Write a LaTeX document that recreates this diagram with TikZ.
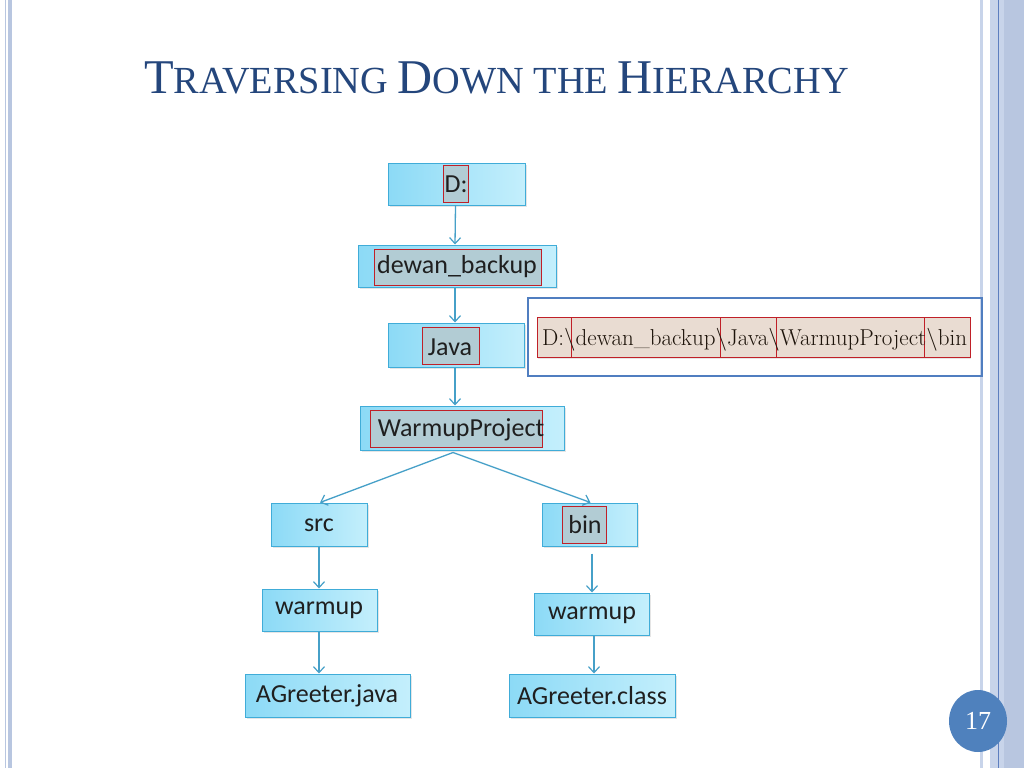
\documentclass[tikz,border=0pt]{standalone}
\usepackage{fontspec}
\newfontfamily\titlefont{Liberation Serif}
\newfontfamily\boxfont{Carlito}
\usetikzlibrary{arrows.meta,shadows,calc,shapes.geometric}
\definecolor{titleblue}{RGB}{36,70,124}
\definecolor{cyanL}{RGB}{140,218,246}
\definecolor{cyanR}{RGB}{196,239,252}
\definecolor{cyanB}{RGB}{64,172,216}
\definecolor{hlfill}{RGB}{178,204,212}
\definecolor{hlred}{RGB}{192,32,40}
\definecolor{arrowc}{RGB}{70,160,200}
\definecolor{pathfill}{RGB}{233,220,210}
\definecolor{pathblue}{RGB}{80,126,192}
\definecolor{numblue}{RGB}{79,129,189}
\definecolor{barlight}{RGB}{200,212,234}
\definecolor{barmid}{RGB}{184,198,224}
\definecolor{bardark}{RGB}{94,127,191}
\tikzset{
  cbox/.style={draw=cyanB, line width=1pt, left color=cyanL, right color=cyanR,
    inner sep=0pt, drop shadow={shadow xshift=1.5pt, shadow yshift=-2pt, opacity=0.2}},
  hl/.style={draw=hlred, line width=1pt, fill=hlfill, inner sep=0pt},
  lbl/.style={font=\boxfont\fontsize{26}{26}\selectfont, text=black!88, inner sep=0pt},
  conn/.style={draw=arrowc, line width=1.3pt, -{Straight Barb[length=6pt,width=11pt,line width=1.2pt]}},
  pseg/.style={draw=hlred, line width=1pt, fill=pathfill, inner sep=0pt,
    drop shadow={shadow xshift=1pt, shadow yshift=-1.5pt, opacity=0.2}},
}
\begin{document}
\begin{tikzpicture}[x=1pt,y=-1pt]
\useasboundingbox (0,0) rectangle (1024,768);
\fill[white] (0,0) rectangle (1024,768);
% borders
\fill[barmid] (4.5,0) rectangle (6,768);
\fill[barmid] (8,0) rectangle (12,768);
\fill[barlight] (980,0) rectangle (983,768);
\fill[barlight] (990,0) rectangle (1024,768);
\fill[barmid] (1004,0) rectangle (1024,768);
\draw[bardark, line width=1pt] (998,0) -- (998,768);
% title
\node[anchor=base, text=titleblue, inner sep=0pt] (title) at (496.5,93)
 {\titlefont\fontsize{48.5}{48.5}\selectfont T\fontsize{38.3}{38.3}\selectfont RAVERSING
  \fontsize{48.5}{48.5}\selectfont D\fontsize{38.3}{38.3}\selectfont OWN THE
  \fontsize{48.5}{48.5}\selectfont H\fontsize{38.3}{38.3}\selectfont IERARCHY};
% tree boxes
\node[cbox, minimum width=137pt, minimum height=42pt] (d) at (456.5,184) {};
\node[hl, minimum width=25pt, minimum height=37pt] (dh) at (455.5,183.5) {};
\node[lbl] (dt) at (456,184) {D:};

\node[cbox, minimum width=198pt, minimum height=42pt] (dewan) at (457,266) {};
\node[hl, minimum width=167pt, minimum height=36pt] (dewanh) at (457.5,267) {};
\node[lbl] (dewant) at (457,267) {dewan\_backup};

\node[cbox, minimum width=136pt, minimum height=44pt] (java) at (456,345) {};
\node[hl, minimum width=57pt, minimum height=37pt] (javah) at (450.5,345.5) {};
\node[lbl] (javat) at (450,347) {Java};

\node[cbox, minimum width=204pt, minimum height=44pt] (wp) at (462,428) {};
\node[hl, minimum width=172pt, minimum height=37pt] (wph) at (456,428.5) {};
\node[lbl] (wpt) at (461,430) {WarmupProject};

\node[cbox, minimum width=96pt, minimum height=43pt] (src) at (319,524.5) {};
\node[lbl] (srct) at (319,525) {src};

\node[cbox, minimum width=95pt, minimum height=43pt] (bin) at (589.5,524.5) {};
\node[hl, minimum width=44pt, minimum height=37pt] (binh) at (584,524.5) {};
\node[lbl] (bint) at (585,525) {bin};

\node[cbox, minimum width=115pt, minimum height=42pt] (wl) at (319.5,610) {};
\node[lbl] (wlt) at (319,610) {warmup};

\node[cbox, minimum width=115pt, minimum height=42pt] (wr) at (591.5,614) {};
\node[lbl] (wrt) at (592,615) {warmup};

\node[cbox, minimum width=165pt, minimum height=43pt] (aj) at (327.5,695.5) {};
\node[lbl] (ajt) at (327,696) {AGreeter.java};

\node[cbox, minimum width=166pt, minimum height=43pt] (ac) at (592,695.5) {};
\node[lbl] (act) at (592,696) {AGreeter.class};

% connectors
\draw[conn] ([xshift=-1pt]d.south) -- ([xshift=-2pt]dewan.north);
\draw[conn] ([xshift=-2pt]dewan.south) -- ([xshift=-1pt]java.north);
\draw[conn] ([xshift=-1pt]java.south) -- ([xshift=-7pt]wp.north);
\coordinate (wpb) at ([xshift=-9pt,yshift=-2pt]wp.south);
\draw[conn] (wpb) -- ([xshift=1pt]src.north);
\draw[conn] (wpb) -- ([xshift=1pt]bin.north);
\draw[conn] (src.south) -- ([xshift=-0.5pt]wl.north);
\draw[conn] ([xshift=2.5pt,yshift=-7pt]bin.south) -- ([xshift=0.5pt]wr.north);
\draw[conn] ([xshift=-0.5pt]wl.south) -- ([xshift=-8.5pt]aj.north);
\draw[conn] ([xshift=2.5pt]wr.south) -- ([xshift=2pt]ac.north);

% path box
\node[draw=pathblue, line width=2.5pt, minimum width=454pt, minimum height=78pt, inner sep=0pt] (pbox) at (755,337) {};
\node[pseg, minimum width=34pt, minimum height=40pt] (p1) at (554,337) {};
\node[pseg, minimum width=149pt, minimum height=40pt] (p2) at (645.5,337) {};
\node[pseg, minimum width=56pt, minimum height=40pt] (p3) at (748,337) {};
\node[pseg, minimum width=148pt, minimum height=40pt] (p4) at (850,337) {};
\node[pseg, minimum width=46pt, minimum height=40pt] (p5) at (947,337) {};
\node[anchor=base west, inner sep=0pt, text=black!85!brown, font=\fontsize{23}{23}\selectfont] (ptext) at (542,345)
 {D:\textbackslash dewan\_backup\textbackslash Java\textbackslash WarmupProject\textbackslash bin};

% page number
\node[ellipse, fill=numblue, minimum width=58pt, minimum height=62pt, inner sep=0pt, text=white,
  font=\titlefont\fontsize{26}{26}\selectfont] (num) at (978,721) {17};
\end{tikzpicture}
\end{document}
